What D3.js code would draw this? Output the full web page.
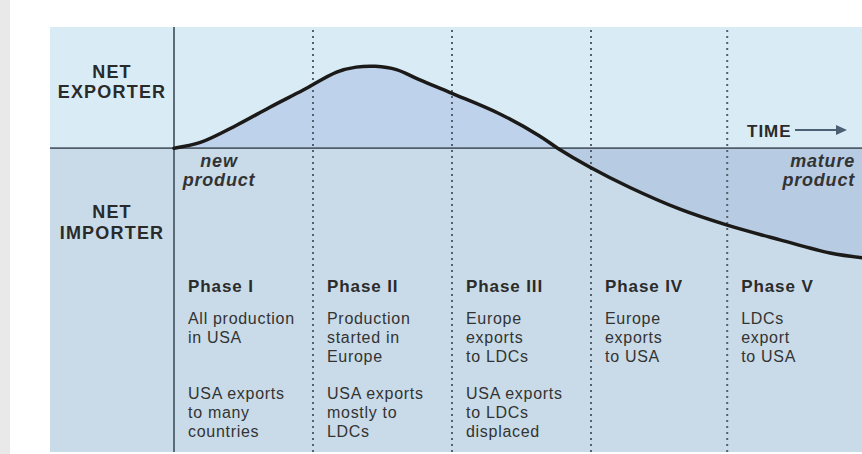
<!DOCTYPE html>
<html>
<head>
<meta charset="utf-8">
<script src="https://cdn.jsdelivr.net/npm/d3@7"></script>
<style>
  body { margin: 0; background: #fff; }
  svg { display: block; font-family: "Liberation Sans", Arial, Helvetica, sans-serif; }
</style>
</head>
<body>
<div id="chart"></div>
<script>
// Width and height
var chart_width = 862;
var chart_height = 454;

// trade balance curve: time (in phase units) and net exports (peak = 1)
var time = [0, 0.19, 0.45, 0.69, 0.93, 1.17, 1.31, 1.45, 1.6, 1.76, 2.0, 2.33, 2.63, 2.76, 2.99, 3.28, 3.64, 3.98, 4.36, 4.72, 4.96];
var netExports = [0, 0.07, 0.28, 0.5, 0.71, 0.93, 0.99, 1.0, 0.96, 0.84, 0.67, 0.43, 0.15, 0, -0.23, -0.48, -0.745, -0.94, -1.12, -1.28, -1.34];

// phase dividers (time units) and phase texts
var phaseBreaks = [1, 2, 3, 3.98];
var phaseStarts = [0, 1, 2, 3, 3.98];
var phaseNames = ["Phase I", "Phase II", "Phase III", "Phase IV", "Phase V"];
var phaseLines = [
  ["All production", "in USA", "", "", "USA exports", "to many", "countries"],
  ["Production", "started in", "Europe", "", "USA exports", "mostly to", "LDCs"],
  ["Europe", "exports", "to LDCs", "", "USA exports", "to LDCs", "displaced"],
  ["Europe", "exports", "to USA"],
  ["LDCs", "export", "to USA"]
];

var panel = {left: 50, top: 27, right: 862, bottom: 452};

var x = d3.scaleLinear().domain([0, 5]).range([174, 869]);
var y = d3.scaleLinear().domain([-3.71, 1.48]).range([panel.bottom, panel.top]);

var data = time.map(function(t, i) { return {t: t, v: netExports[i]}; });

var svg = d3.select("#chart").append("svg")
  .attr("width", chart_width)
  .attr("height", chart_height);

// page edge
svg.append("rect").attr("x", 0).attr("y", 0).attr("width", 10).attr("height", chart_height).attr("fill", "#e9e9e9");

// backgrounds
svg.append("rect")
  .attr("x", panel.left).attr("y", panel.top)
  .attr("width", panel.right - panel.left).attr("height", y(0) - panel.top)
  .attr("fill", "#d9ecf6");
svg.append("rect")
  .attr("x", panel.left).attr("y", y(0))
  .attr("width", panel.right - panel.left).attr("height", panel.bottom - y(0))
  .attr("fill", "#c9dbe8");

var defs = svg.append("defs");
defs.append("clipPath").attr("id", "clipTop").append("rect")
  .attr("x", panel.left).attr("y", panel.top).attr("width", panel.right - panel.left).attr("height", y(0) - panel.top);
defs.append("clipPath").attr("id", "clipBottom").append("rect")
  .attr("x", panel.left).attr("y", y(0)).attr("width", panel.right - panel.left).attr("height", panel.bottom - y(0));
defs.append("clipPath").attr("id", "clipPanel").append("rect")
  .attr("x", panel.left).attr("y", panel.top).attr("width", panel.right - panel.left).attr("height", panel.bottom - panel.top);

var area = d3.area()
  .x(function(d) { return x(d.t); })
  .y0(y(0))
  .y1(function(d) { return y(d.v); })
  .curve(d3.curveCatmullRom.alpha(0.5));

var line = d3.line()
  .x(function(d) { return x(d.t); })
  .y(function(d) { return y(d.v); })
  .curve(d3.curveCatmullRom.alpha(0.5));

svg.append("path").datum(data).attr("d", area).attr("fill", "#bfd2eb").attr("clip-path", "url(#clipTop)");
svg.append("path").datum(data).attr("d", area).attr("fill", "#b7cbe3").attr("clip-path", "url(#clipBottom)");

// phase dividers
svg.selectAll(".divider").data(phaseBreaks).enter().append("line")
  .attr("class", "divider")
  .attr("x1", function(d) { return x(d); })
  .attr("x2", function(d) { return x(d); })
  .attr("y1", panel.top + 3)
  .attr("y2", panel.bottom)
  .attr("stroke", "#55606c")
  .attr("stroke-width", 2)
  .attr("stroke-dasharray", "2,4");

// baseline and start line
svg.append("line")
  .attr("x1", panel.left).attr("x2", panel.right)
  .attr("y1", y(0)).attr("y2", y(0))
  .attr("stroke", "#4f5e6a").attr("stroke-width", 1.8);
svg.append("line")
  .attr("x1", x(0)).attr("x2", x(0))
  .attr("y1", panel.top).attr("y2", panel.bottom)
  .attr("stroke", "#4f5e6a").attr("stroke-width", 1.8);

// curve
svg.append("path").datum(data)
  .attr("d", line)
  .attr("fill", "none")
  .attr("stroke", "#1b1a18")
  .attr("stroke-width", 3.5)
  .attr("stroke-linecap", "round")
  .attr("clip-path", "url(#clipPanel)");

// side labels
function label(txt, px, py, opts) {
  var t = svg.append("text")
    .attr("x", px).attr("y", py)
    .attr("fill", opts.fill || "#2a2a2a")
    .attr("font-size", opts.size || 16)
    .attr("font-weight", opts.weight || "normal")
    .attr("font-style", opts.style || "normal")
    .attr("letter-spacing", opts.ls || 0)
    .attr("text-anchor", opts.anchor || "start")
    .text(txt);
  return t;
}

label("NET", 112, 78, {size: 18, weight: "bold", ls: 1.2, anchor: "middle"});
label("EXPORTER", 112, 98, {size: 18, weight: "bold", ls: 1.2, anchor: "middle"});
label("NET", 112, 218, {size: 18, weight: "bold", ls: 1.2, anchor: "middle"});
label("IMPORTER", 112, 239, {size: 18, weight: "bold", ls: 1.2, anchor: "middle"});

label("new", 219, 167, {size: 18, weight: "bold", style: "italic", ls: 0.8, anchor: "middle", fill: "#333"});
label("product", 219, 186, {size: 18, weight: "bold", style: "italic", ls: 0.8, anchor: "middle", fill: "#333"});
label("mature", 855, 167, {size: 18, weight: "bold", style: "italic", ls: 0.8, anchor: "end", fill: "#333"});
label("product", 855, 186, {size: 18, weight: "bold", style: "italic", ls: 0.8, anchor: "end", fill: "#333"});

// time arrow
label("TIME", 747, 137, {size: 17, weight: "bold", ls: 1, fill: "#2a2a2a"});
svg.append("line")
  .attr("x1", 795).attr("x2", 838).attr("y1", 130).attr("y2", 130)
  .attr("stroke", "#4b5f75").attr("stroke-width", 2.2);
svg.append("path")
  .attr("d", "M836,125 L847,130 L836,135 Z")
  .attr("fill", "#4b5f75");

// phase texts
var phases = svg.selectAll(".phase").data(phaseNames).enter().append("g")
  .attr("class", "phase")
  .attr("transform", function(d, i) { return "translate(" + (x(phaseStarts[i]) + 14) + ",0)"; });

phases.append("text")
  .attr("y", 292)
  .attr("fill", "#2b2b2b")
  .attr("font-size", 17)
  .attr("font-weight", "bold")
  .attr("letter-spacing", 0.9)
  .text(function(d) { return d; });

phases.each(function(d, i) {
  var g = d3.select(this);
  phaseLines[i].forEach(function(s, j) {
    if (!s) return;
    g.append("text")
      .attr("y", 324 + j * 19 - (j >= 4 ? 1 : 0))
      .attr("fill", "#333")
      .attr("font-size", 16)
      .attr("letter-spacing", 0.7)
      .text(s);
  });
});
</script>
</body>
</html>
